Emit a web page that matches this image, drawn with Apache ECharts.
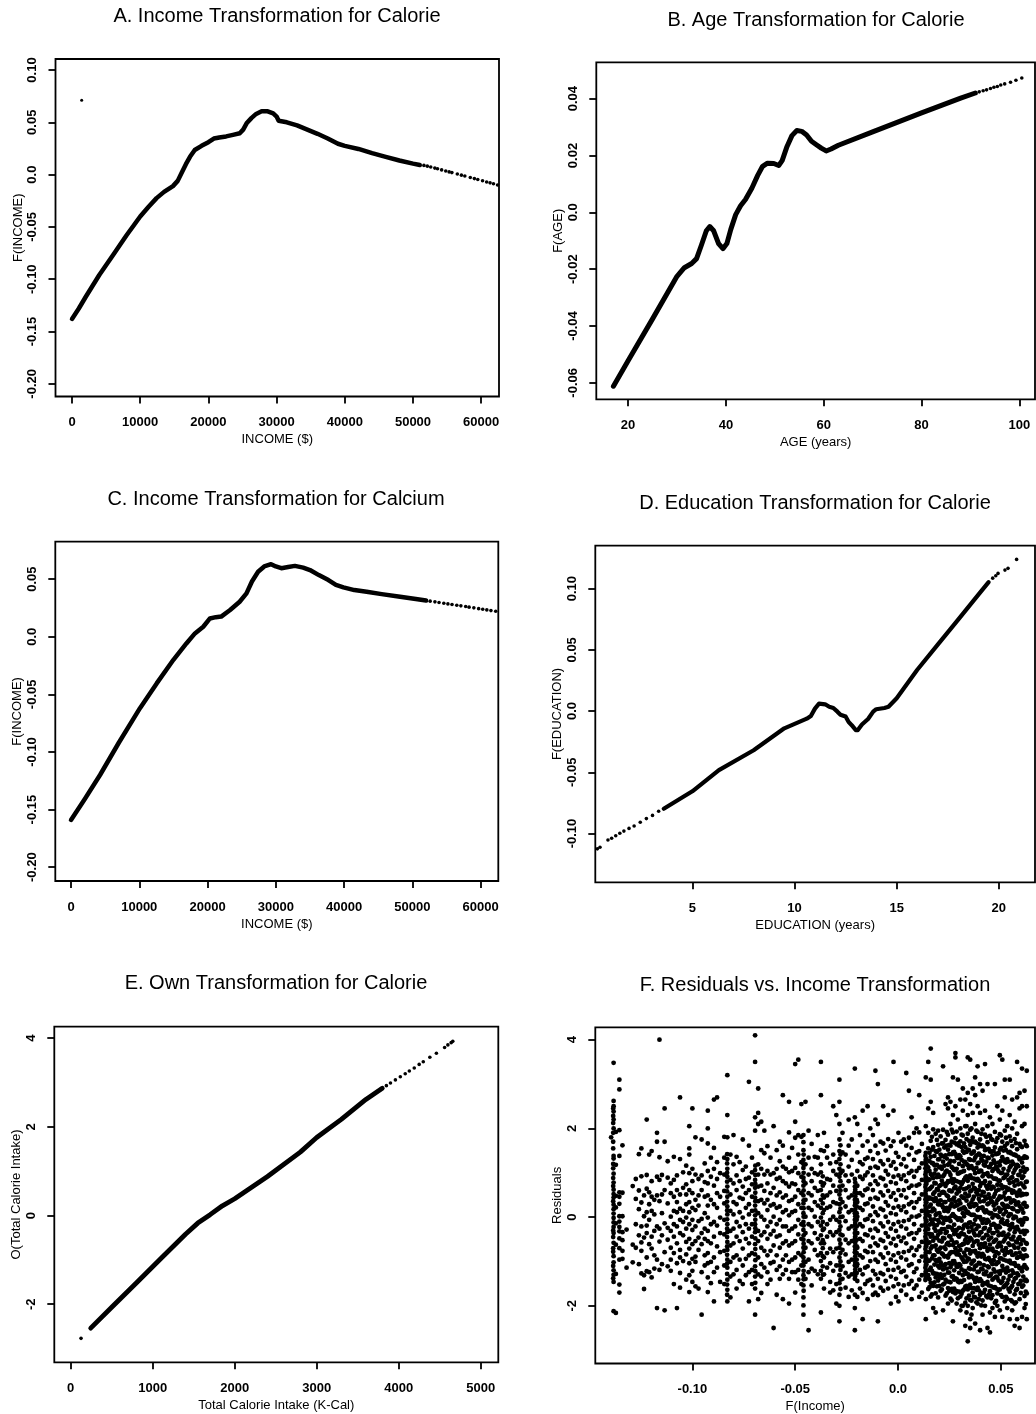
<!DOCTYPE html>
<html><head><meta charset="utf-8">
<script src="https://cdn.jsdelivr.net/npm/echarts@6/dist/echarts.min.js"></script>
<style>html,body{margin:0;padding:0;background:#fff}#c{width:1036px;height:1414px}</style>
</head><body><div id="c"></div>
<script>
// ---------- Panel A: Income transformation for Calorie ----------
const aCurve = [[0,-0.138],[1000,-0.128],[2000,-0.117],[4000,-0.096],[6000,-0.077],[8000,-0.058],[10000,-0.040],[11200,-0.031],[12400,-0.0225],[13500,-0.0165],[14800,-0.011],[15500,-0.006],[16100,0.002],[16700,0.010],[17300,0.017],[18000,0.0235],[19000,0.0275],[20000,0.031],[20800,0.0345],[21600,0.0355],[22600,0.0365],[23600,0.038],[24600,0.0395],[25100,0.043],[25600,0.049],[26300,0.054],[27000,0.058],[27800,0.0605],[28700,0.0605],[29500,0.0585],[30000,0.0555],[30300,0.0515],[31500,0.0500],[33000,0.0470],[34500,0.0430],[36000,0.0390],[37500,0.0345],[39000,0.0295],[40000,0.0275],[42000,0.0245],[44000,0.0205],[46000,0.0170],[48000,0.0135],[50000,0.0105],[51000,0.0092]];
const aTail = [[51600,0.0088],[52100,0.0081],[52600,0.0073],[53200,0.0062],[53600,0.0056],[54200,0.0045],[54800,0.0034],[55300,0.0026],[55700,0.0019],[56500,0.0006],[57100,-0.0005],[57600,-0.0014],[58400,-0.0028],[59000,-0.0038],[59500,-0.0047],[60200,-0.0059],[60800,-0.0070],[61300,-0.0079],[61800,-0.0088],[62400,-0.0099]];
const aStray = [[1420,0.071]];
const aXTicks = [0,10000,20000,30000,40000,50000,60000];
const aYTicks = [-0.20,-0.15,-0.10,-0.05,0,0.05,0.10];
const aYLabels = ['-0.20','-0.15','-0.10','-0.05','0.0','0.05','0.10'];

// ---------- Panel B: Age transformation for Calorie ----------
const bCurve = [[17,-0.0612],[20,-0.0522],[25,-0.0375],[30,-0.0225],[31.5,-0.0195],[33,-0.0180],[34,-0.0163],[35,-0.0115],[36,-0.0065],[36.7,-0.0050],[37.5,-0.0065],[38.5,-0.0110],[39.4,-0.0128],[40.2,-0.0110],[41,-0.0060],[42,-0.0008],[43,0.0023],[44,0.0045],[45.3,0.0085],[46.5,0.0130],[47.5,0.0162],[48.5,0.0173],[49.8,0.0172],[50.8,0.0165],[51.5,0.0182],[52.5,0.0232],[53.5,0.0270],[54.5,0.0288],[55.5,0.0285],[56.5,0.0272],[57.5,0.0250],[58.5,0.0238],[59.5,0.0226],[60.5,0.0216],[61.5,0.0223],[63,0.0236],[70,0.0283],[80,0.0350],[88,0.0402],[91,0.0420]];
const bTail = [[91.8,0.0424],[92.6,0.0428],[93.3,0.0431],[94.1,0.0436],[94.8,0.0440],[95.5,0.0443],[96.2,0.0448],[97.0,0.0452],[98.2,0.0458],[99.3,0.0465],[100.5,0.0473]];
const bXTicks = [20,40,60,80,100];
const bYTicks = [-0.06,-0.04,-0.02,0,0.02,0.04];
const bYLabels = ['-0.06','-0.04','-0.02','0.0','0.02','0.04'];

// ---------- Panel C: Income transformation for Calcium ----------
const cCurve = [[0,-0.159],[2000,-0.141],[4250,-0.120],[7000,-0.092],[10100,-0.062],[12550,-0.0405],[15000,-0.0200],[16900,-0.0058],[18150,0.0029],[19370,0.0087],[20350,0.0159],[21200,0.0170],[22000,0.0175],[23300,0.0232],[24700,0.0304],[25700,0.0376],[26500,0.0480],[27400,0.0564],[28300,0.0610],[29300,0.0630],[30000,0.0610],[30800,0.0595],[31800,0.0605],[32800,0.0615],[34000,0.0600],[35000,0.0579],[36300,0.0535],[37700,0.0492],[38800,0.0450],[39900,0.0429],[41500,0.0405],[43300,0.0391],[45500,0.0370],[48200,0.0347],[50500,0.0328],[52000,0.0314]];
const cTail = [[52600,0.0309],[53300,0.0303],[53900,0.0297],[54600,0.0291],[55200,0.0285],[55800,0.0280],[56500,0.0273],[57100,0.0268],[57800,0.0262],[58300,0.0257],[59000,0.0251],[59700,0.0244],[60300,0.0239],[60900,0.0233],[61500,0.0227],[62200,0.0221]];
const cXTicks = [0,10000,20000,30000,40000,50000,60000];
const cYTicks = [-0.20,-0.15,-0.10,-0.05,0,0.05];
const cYLabels = ['-0.20','-0.15','-0.10','-0.05','0.0','0.05'];

// ---------- Panel D: Education transformation for Calorie ----------
const dCurve = [[3.6,-0.0797],[5,-0.0655],[6.3,-0.0482],[8,-0.0320],[9.5,-0.0141],[10.6,-0.0062],[10.8,-0.0040],[11.0,0.0020],[11.2,0.0060],[11.5,0.0055],[11.7,0.0035],[11.9,0.0025],[12.1,-0.0005],[12.25,-0.0030],[12.5,-0.0045],[12.65,-0.0090],[12.8,-0.0115],[13.0,-0.0155],[13.1,-0.0155],[13.3,-0.0110],[13.6,-0.0065],[13.85,-0.0005],[14.0,0.0015],[14.4,0.0025],[14.6,0.0035],[15,0.0105],[16,0.0335],[17,0.0540],[18,0.0745],[19,0.0950],[19.5,0.1052]];
const dHead = [[0.35,-0.1125],[0.48,-0.1112],[0.87,-0.1053],[1.05,-0.1038],[1.25,-0.1018],[1.45,-0.0998],[1.65,-0.0980],[1.9,-0.0958],[2.15,-0.0938],[2.45,-0.0908],[2.75,-0.0878],[3.05,-0.0852],[3.35,-0.0818]];
const dTail = [[19.7,0.1085],[19.85,0.1105],[19.96,0.1124],[20.3,0.1151],[20.45,0.1165],[20.87,0.1238]];
const dXTicks = [5,10,15,20];
const dYTicks = [-0.10,-0.05,0,0.05,0.10];
const dYLabels = ['-0.10','-0.05','0.0','0.05','0.10'];

// ---------- Panel E: Own transformation for Calorie ----------
const eCurve = [[244,-2.54],[500,-2.07],[800,-1.52],[1100,-0.97],[1400,-0.42],[1550,-0.17],[1700,0.02],[1850,0.22],[2000,0.38],[2400,0.88],[2800,1.43],[3000,1.76],[3300,2.17],[3600,2.62],[3800,2.87]];
const eTail = [[126,-2.77],[3850,2.93],[3900,2.99],[3960,3.06],[4020,3.13],[4080,3.20],[4130,3.26],[4190,3.33],[4250,3.41],[4300,3.47],[4380,3.57],[4460,3.66],[4560,3.79],[4600,3.85],[4640,3.90],[4660,3.93]];
const eXTicks = [0,1000,2000,3000,4000,5000];
const eYTicks = [-2,0,2,4];
const eYLabels = ['-2','0','2','4'];

// ---------- Panel F: Residuals vs income transformation (stripes of points) ----------
const fStripeX = [-0.1395,-0.1383,-0.1372,-0.1355,-0.1340,-0.1320,
-0.1290,-0.1275,-0.1260,-0.1248,-0.1235,-0.1222,-0.1210,-0.1198,-0.1185,-0.1172,-0.1160,-0.1148,-0.1135,-0.1120,
-0.1105,-0.1090,-0.1075,-0.1060,-0.1045,-0.1030,-0.1015,-0.1000,-0.0985,-0.0970,-0.0955,-0.0940,-0.0925,-0.0910,-0.0895,-0.0880,-0.0865,
-0.0845,-0.0830,-0.0815,-0.0800,-0.0785,-0.0770,-0.0755,-0.0740,-0.0725,-0.0710,-0.0695,-0.0680,-0.0665,-0.0650,-0.0635,-0.0620,-0.0605,-0.0590,-0.0575,-0.0560,-0.0545,-0.0530,-0.0515,
-0.0500,-0.0485,-0.0470,-0.0460,-0.0450,-0.0435,-0.0420,-0.0405,-0.0390,-0.0375,-0.0360,-0.0345,-0.0330,-0.0315,-0.0300,-0.0285,-0.0270,-0.0255,-0.0240,-0.0225,
-0.0210,-0.0198,-0.0185,-0.0172,-0.0160,-0.0148,-0.0135,-0.0122,-0.0110,-0.0098,-0.0085,-0.0072,-0.0060,-0.0048,-0.0035,-0.0022,-0.0010,0.0002,0.0015,0.0028,0.0040,0.0053,0.0066,0.0078,0.0090,0.0103,0.0116,
0.0135,0.0147,0.0159,0.0171,0.0183,0.0195,0.0207,0.0219,0.0231,0.0243,0.0255,0.0267,0.0279,0.0291,0.0303,0.0315,0.0327,0.0339,0.0351,0.0363,0.0375,0.0387,0.0399,0.0411,0.0423,0.0435,0.0447,0.0459,0.0471,0.0483,0.0495,0.0507,0.0519,0.0531,0.0543,0.0555,0.0567,0.0579,0.0591,0.0603,0.0615,0.0626];
const fStripeY = [
[1.8],
[3.48,2.62,2.5,2.38,2.2,2.0,1.38,1.32,0.98,0.78,0.62,0.52,0.44,0.28,0.18,0.08,-0.02,-0.12,-0.22,-0.36,-0.58,-0.88,-1.02,-1.2,-1.3,-1.46,-2.12],
[1.92,1.18,0.48,0.22,-0.14,-0.62,-1.28,-2.16],
[3.1,2.88,1.96,1.38,0.56,0.46,0.3,0.02,-0.1,-0.22,-0.32,-0.48,-0.7,-0.96,-1.52,-1.7],
[1.62,0.55,0.02,-0.34,-0.52,-0.76,-0.94],
[-0.28,-1.14],
[0.7,-0.62,-1.02],
[0.86,0.41,-0.16,-0.69],
[1.42,0.6,0.18,-0.41,-1.06],
[1.55,0.92,0.33,-0.21,-0.57,-0.76,-1.27],
[0.49,0.02,-0.46,-1.31,-1.62],
[2.2,0.95,0.64,0.11,-0.19,-0.36,-0.91,-1.22],
[1.41,0.56,0.29,-0.06,-0.61,-1.24],
[1.49,0.81,0.46,0.14,-0.44,-0.71,-1.36],
[0.39,0.06,-0.31,-0.86,-1.16],
[1.9,1.7,0.91,0.49,-0.21,-0.96,-2.05],
[4.0,1.35,0.84,0.36,-0.26,-0.55,-1.19],
[0.95,0.51,0.09,-0.41,-1.06],
[2.45,1.7,0.61,-0.14,-0.79,-2.1],
[1.26,0.89,0.31,-0.24,-0.51,-1.11],
[0.76,0.54,0.01,-0.31,-0.69,-0.96,-1.21],
[1.36,0.84,0.46,0.14,-0.16,-0.44,-0.81,-1.51],
[0.94,0.61,0.34,0.11,-0.21,-0.59,-1.04,-2.05],
[2.7,1.31,0.51,0.19,-0.06,-0.36,-0.74,-0.91,-1.26,-1.59],
[1.01,0.66,0.14,-0.11,-0.41,-0.99],
[1.16,0.74,0.51,0.29,-0.01,-0.26,-0.56,-0.84,-1.41],
[2.05,1.55,1.41,0.99,0.61,0.34,0.11,-0.16,-0.49,-0.71,-1.04,-1.31,-1.69],
[2.45,1.09,0.81,0.54,0.21,-0.06,-0.29,-0.61,-0.94,-1.21,-1.46],
[1.8,0.96,0.39,0.16,-0.21,-0.54,-0.89,-1.01,-1.56],
[0.86,0.49,0.26,-0.09,-0.46,-0.74,-1.61],
[1.75,0.94,0.61,-0.04,-0.36,-0.61,-1.24,-2.2],
[1.21,0.79,0.46,0.09,-0.26,-0.49,-0.86,-1.09],
[2.4,2.0,1.66,1.04,0.76,0.49,0.26,-0.01,-0.31,-0.54,-0.81,-1.04,-1.36,-1.69],
[1.34,0.91,0.39,-0.16,-0.59,-1.01,-1.49],
[2.65,1.56,1.09,0.71,0.29,-0.11,-0.44,-0.91,-1.24,-1.9],
[2.7,1.24,0.86,0.54,0.21,-0.19,-0.66,-1.14],
[0.99,0.46,-0.01,-0.36,-0.79,-1.46],
[1.81,1.34,0.96,0.59,0.31,-0.06,-0.39,-0.76,-1.09,-1.51],
[3.2,2.3,1.8,1.31,1.09,0.91,0.69,0.46,0.24,0.06,-0.16,-0.34,-0.56,-0.74,-0.96,-1.14,-1.41,-1.64,-1.9],
[1.41,0.84,0.51,0.14,-0.31,-0.64,-1.01,-1.34,-1.81],
[1.85,1.19,0.76,0.34,0.06,-0.26,-0.59,-0.91,-1.29],
[1.36,0.94,0.61,0.29,-0.11,-0.44,-0.86,-1.19,-1.61],
[1.24,0.81,0.44,0.11,-0.21,-0.54,-0.96,-1.44],
[1.75,1.06,0.69,0.41,-0.01,-0.34,-0.71,-1.09,-1.51],
[1.14,0.86,0.54,0.21,-0.16,-0.49,-0.94,-1.31],
[3.05,1.61,0.89,0.61,0.29,0.06,-0.26,-0.59,-0.86,-1.24,-1.9],
[1.34,1.01,0.74,0.46,0.14,-0.16,-0.44,-0.81,-1.19,-1.51],
[4.1,3.5,2.25,1.95,1.06,0.84,0.66,0.44,0.26,0.04,-0.16,-0.34,-0.61,-0.84,-1.11,-1.34,-1.61,-2.2],
[2.9,2.35,2.1,1.19,0.96,0.69,0.36,0.09,-0.31,-0.54,-0.91,-1.29,-1.85],
[2.15,1.51,1.09,0.71,0.39,0.01,-0.41,-0.69,-1.06,-1.34,-1.71],
[1.95,1.44,0.96,0.59,0.31,-0.06,-0.34,-0.76,-1.14],
[1.6,1.04,0.76,0.39,0.16,-0.21,-0.49,-0.86,-1.24,-1.51],
[1.34,0.96,0.54,0.26,-0.11,-0.39,-0.76,-1.04,-1.41],
[2.05,0.99,0.66,0.29,0.01,-0.31,-0.64,-1.01,-2.5],
[1.51,1.09,0.86,0.49,0.21,-0.16,-0.44,-0.86,-1.19,-1.75],
[1.7,1.26,0.89,0.56,0.24,-0.06,-0.41,-0.69,-1.11,-1.39],
[2.75,1.61,1.14,0.81,0.44,0.11,-0.21,-0.59,-0.96,-1.29,-1.85],
[1.09,0.76,0.49,0.16,-0.21,-0.54,-0.86,-1.19],
[2.6,1.91,1.34,1.01,0.69,0.36,0.04,-0.31,-0.64,-1.01,-1.39,-1.95],
[1.56,1.04,0.76,0.39,0.11,-0.26,-0.59,-0.96,-1.24],
[3.45,2.15,1.79,1.11,0.74,0.46,0.14,-0.21,-0.54,-0.91,-1.24,-1.7],
[3.55,1.85,1.41,0.99,0.61,0.29,-0.06,-0.39,-0.81,-1.19,-1.41],
[2.55,1.81,1.24,0.91,0.54,0.21,-0.16,-0.49,-0.86,-1.09,-1.51],
[1.85,1.69,1.51,1.29,1.11,0.89,0.71,0.49,0.31,0.09,-0.11,-0.29,-0.51,-0.69,-0.91,-1.09,-1.31,-1.54,-1.81,-1.99,-2.2],
[2.6,1.19,0.76,0.39,0.01,-0.36,-0.69,-1.01,-1.39],
[1.95,1.34,0.96,0.54,0.21,-0.16,-0.54,-0.96,-1.24,-2.55],
[1.65,1.09,0.81,0.49,0.16,-0.21,-0.59,-1.16,-1.54],
[1.36,0.99,0.66,0.34,0.01,-0.36,-0.74,-1.21],
[1.85,1.34,0.96,0.59,0.26,-0.11,-0.49,-0.86,-1.29],
[3.5,2.75,1.51,1.19,1.01,0.79,0.61,0.39,0.21,-0.01,-0.19,-0.41,-0.59,-0.81,-0.99,-1.21,-1.39,-2.15],
[1.9,1.49,0.76,0.44,0.16,-0.26,-0.59,-0.91,-1.29,-1.61],
[1.6,1.34,0.86,0.49,0.21,-0.16,-0.44,-0.81,-1.14],
[1.21,0.84,0.56,0.24,-0.06,-0.34,-0.71,-1.04,-1.46,-1.7],
[2.5,1.41,1.04,0.71,0.34,0.01,-0.41,-0.79,-1.21,-1.65],
[2.3,1.24,0.96,0.59,0.31,-0.06,-0.34,-0.71,-1.09,-1.51,-1.95],
[3.1,2.6,2.1,1.75,1.49,1.31,1.09,0.91,0.69,0.51,0.29,0.11,-0.11,-0.29,-0.51,-0.69,-0.91,-1.09,-1.31,-1.49,-1.75,-2.0,-2.35],
[1.9,1.46,1.04,0.71,0.34,0.01,-0.41,-0.74,-1.11,-1.39],
[1.41,0.94,0.61,0.24,-0.09,-0.51,-0.84,-1.26,-1.59],
[2.2,1.61,1.14,0.81,0.44,0.11,-0.26,-0.59,-1.01,-1.34,-1.8],
[1.75,1.29,0.96,0.49,0.16,-0.21,-0.54,-0.96,-1.29,-1.65],
[3.35,2.25,0.86,0.69,0.56,0.39,0.26,0.09,-0.06,-0.19,-0.36,-0.49,-0.66,-0.79,-0.96,-1.09,-1.26,-1.39,-1.75,-2.05,-2.55],
[2.1,1.46,1.04,0.71,0.34,0.01,-0.36,-0.69,-1.06,-1.44,-1.8],
[1.85,1.24,0.91,0.54,0.21,-0.16,-0.49,-0.86,-1.19,-1.61],
[2.4,1.61,1.19,0.86,0.49,0.16,-0.21,-0.54,-0.91,-1.29,-1.71,-2.3],
[1.31,0.94,0.61,0.29,-0.06,-0.39,-0.76,-1.14,-1.51],
[2.5,1.71,1.34,1.01,0.64,0.31,-0.04,-0.41,-0.79,-1.11,-1.44,-1.85],
[2.0,1.49,1.11,0.74,0.41,0.04,-0.29,-0.66,-0.99,-1.41],
[1.85,1.31,0.94,0.61,0.24,-0.09,-0.46,-0.79,-1.21,-1.54,-1.75],
[3.3,2.2,1.61,1.14,0.81,0.44,0.11,-0.26,-0.59,-0.96,-1.29,-1.7],
[3.0,2.1,1.44,1.11,0.74,0.41,0.04,-0.31,-0.64,-1.01,-1.39,-1.76,-2.35],
[1.7,1.26,0.89,0.56,0.19,-0.14,-0.51,-0.84,-1.26,-1.59],
[2.5,1.66,1.19,0.86,0.49,0.16,-0.21,-0.54,-0.91,-1.29,-1.66],
[1.5,1.04,0.71,0.34,0.01,-0.36,-0.69,-1.06,-1.44],
[2.3,1.76,1.29,0.96,0.59,0.26,-0.11,-0.44,-0.81,-1.19,-1.61],
[1.6,1.16,0.79,0.46,0.09,-0.26,-0.59,-0.96,-1.34,-1.95],
[3.5,2.4,1.71,1.24,0.91,0.54,0.21,-0.16,-0.49,-0.86,-1.19,-1.56],
[1.45,1.09,0.76,0.39,0.06,-0.31,-0.64,-1.01,-1.39,-1.8],
[1.9,1.36,0.94,0.61,0.24,-0.11,-0.44,-0.81,-1.14,-1.51,-1.9],
[1.7,1.19,0.86,0.49,0.16,-0.21,-0.54,-0.91,-1.24,-1.66],
[1.75,1.31,0.94,0.61,0.24,-0.09,-0.46,-0.79,-1.21,-1.54],
[3.25,1.61,1.14,0.81,0.44,0.11,-0.26,-0.59,-0.96,-1.34,-1.75],
[2.85,1.79,1.41,0.99,0.66,0.29,-0.06,-0.39,-0.76,-1.09,-1.51],
[2.25,1.56,1.04,0.71,0.34,0.01,-0.36,-0.69,-1.06,-1.44,-1.85],
[1.9,1.29,0.91,0.54,0.21,-0.16,-0.49,-0.86,-1.24,-1.61],
[2.0,1.46,1.04,0.71,0.34,0.01,-0.36,-0.74,-1.16,-1.54],
[2.75,1.91,1.49,1.11,0.74,0.41,0.04,-0.29,-0.66,-0.99,-1.41,-1.8],
[1.65,1.21,0.84,0.51,0.14,-0.19,-0.56,-0.89,-1.31,-1.7],
[3.15,2.05,1.45,1.3,1.18,1.02,0.9,0.74,0.6,0.47,0.33,0.2,0.06,-0.08,-0.22,-0.37,-0.5,-0.66,-0.8,-0.94,-1.08,-1.22,-1.37,-1.85,-2.3],
[3.5,2.45,1.9,1.55,1.12,0.83,0.41,0.12,-0.27,-0.58,-0.99,-1.31,-1.62],
[3.8,3.1,2.6,1.72,1.36,0.97,0.66,0.28,-0.05,-0.44,-0.71,-1.14,-1.48,-1.79],
[2.35,1.98,1.58,1.21,0.88,0.52,0.19,-0.16,-0.53,-0.86,-1.27,-1.55,-2.05],
[1.88,1.49,1.07,0.76,0.43,0.05,-0.31,-0.64,-0.97,-1.36,-1.72,-2.15],
[1.95,1.63,1.3,0.96,0.61,0.29,-0.07,-0.4,-0.78,-1.1,-1.43,-1.81],
[1.82,1.41,1.14,0.72,0.38,0.01,-0.35,-0.69,-1.02,-1.29,-1.66],
[3.4,1.97,1.67,1.25,0.92,0.57,0.22,-0.14,-0.47,-0.84,-1.18,-1.52,-2.1],
[2.55,1.74,1.39,1.02,0.7,0.34,-0.02,-0.36,-0.72,-1.06,-1.41,-1.77],
[2.7,2.45,1.86,1.52,1.18,0.81,0.47,0.13,-0.22,-0.58,-0.91,-1.25,-1.6,-1.95],
[2.6,2.1,1.61,1.27,0.95,0.59,0.25,-0.09,-0.44,-0.8,-1.13,-1.47,-1.84],
[3.15,2.3,1.91,1.46,1.1,0.77,0.4,0.07,-0.29,-0.63,-0.99,-1.33,-1.69,-2.35],
[3.7,3.6,2.5,1.78,1.42,1.06,0.69,0.35,0.0,-0.35,-0.7,-1.05,-1.38,-1.72],
[3.1,2.2,1.66,1.33,0.98,0.62,0.28,-0.06,-0.41,-0.77,-1.12,-1.45,-1.83],
[2.65,2.0,1.71,1.37,1.01,0.66,0.31,-0.04,-0.39,-0.74,-1.09,-1.44,-1.79,-2.1],
[2.9,2.4,1.84,1.49,1.15,0.79,0.44,0.09,-0.26,-0.61,-0.96,-1.31,-1.66,-2.0],
[2.65,2.05,1.58,1.24,0.89,0.53,0.18,-0.17,-0.52,-0.87,-1.22,-1.57,-1.93,-2.45],
[3.6,2.8,2.3,1.88,1.52,1.17,0.82,0.47,0.12,-0.23,-0.58,-0.93,-1.28,-1.63,-2.0,-2.8],
[3.55,2.55,1.97,1.63,1.29,0.94,0.58,0.23,-0.12,-0.47,-0.82,-1.17,-1.52,-1.87,-2.3,-2.5],
[2.9,2.35,1.79,1.45,1.1,0.75,0.4,0.05,-0.3,-0.65,-1.0,-1.35,-1.7,-2.05],
[3.15,2.75,2.1,1.7,1.34,0.99,0.64,0.29,-0.06,-0.41,-0.76,-1.11,-1.46,-1.81,-2.4],
[3.4,2.5,1.92,1.57,1.21,0.86,0.51,0.16,-0.19,-0.54,-0.89,-1.24,-1.59,-1.95],
[3.0,2.35,1.75,1.4,1.05,0.7,0.35,0.0,-0.35,-0.7,-1.05,-1.4,-1.75,-2.55],
[2.85,1.98,1.62,1.27,0.92,0.57,0.22,-0.13,-0.48,-0.83,-1.18,-1.53,-1.88,-2.2],
[3.45,2.4,1.86,1.51,1.16,0.81,0.46,0.11,-0.24,-0.59,-0.94,-1.29,-1.64,-2.0],
[3.0,2.05,1.69,1.34,0.99,0.64,0.29,-0.06,-0.41,-0.76,-1.11,-1.46,-1.81,-2.5],
[2.25,1.83,1.48,1.13,0.78,0.43,0.08,-0.27,-0.62,-0.97,-1.32,-1.67,-2.15,-2.6],
[2.1,1.74,1.39,1.04,0.69,0.34,-0.01,-0.36,-0.71,-1.06,-1.41,-1.76,-2.05],
[3.0,1.92,1.57,1.22,0.87,0.52,0.17,-0.18,-0.53,-0.88,-1.23,-1.58,-1.93,-2.25],
[2.5,1.78,1.43,1.08,0.73,0.38,0.03,-0.32,-0.67,-1.02,-1.37,-1.72,-2.0],
[3.65,2.2,1.87,1.52,1.17,0.82,0.47,0.12,-0.23,-0.58,-0.93,-1.28,-1.63,-2.1],
[3.55,2.4,1.7,1.35,1.0,0.65,0.3,-0.05,-0.4,-0.75,-1.1,-1.45,-1.8,-2.25],
[3.1,2.7,1.95,1.6,1.25,0.9,0.55,0.2,-0.15,-0.5,-0.85,-1.2,-1.55,-1.9],
[2.05,1.66,1.31,0.96,0.61,0.26,-0.09,-0.44,-0.79,-1.14,-1.49,-1.84,-2.05],
[3.1,2.3,1.82,1.47,1.12,0.77,0.42,0.07,-0.28,-0.63,-0.98,-1.33,-1.68,-2.3],
[2.65,2.0,1.6,1.25,0.9,0.55,0.2,-0.15,-0.5,-0.85,-1.2,-1.55,-1.9,-2.1],
[2.15,1.76,1.41,1.06,0.71,0.36,0.01,-0.34,-0.69,-1.04,-1.39,-1.74,-1.95,-2.45],
[3.5,2.7,1.88,1.53,1.18,0.83,0.48,0.13,-0.22,-0.57,-0.92,-1.27,-1.62,-2.3],
[2.8,2.45,1.65,1.3,0.95,0.6,0.25,-0.1,-0.45,-0.8,-1.15,-1.5,-1.85,-2.5],
[3.35,2.5,2.05,1.58,1.23,0.88,0.53,0.18,-0.17,-0.52,-0.87,-1.22,-1.57,-2.25],
[2.85,2.1,1.72,1.37,1.02,0.67,0.32,-0.03,-0.38,-0.73,-1.08,-1.43,-1.78,-2.05],
[3.3,2.5,1.6,1.34,1.08,0.8,0.52,0.24,-0.04,-0.32,-0.6,-0.88,-1.16,-1.44,-1.72,-2.3]
];
// strongly populated income groups (solid vertical streaks)
const fLineX = [-0.1385,-0.0831,-0.0694,-0.0459,-0.0366,-0.0280,-0.0208,-0.0201,0.0133,0.0138];
const fLineY = [
[2.45,2.28,2.12,1.9,1.7,1.55,1.2,1.1,0.88,0.7,0.36,-0.3,-0.45,-0.7,-0.78,-1.1,-1.38],
[1.42,1.21,1.0,0.8,0.58,0.35,0.15,-0.05,-0.26,-0.45,-0.66,-0.85,-1.05,-1.28,-1.52,-1.75],
[1.16,0.95,0.75,0.55,0.36,0.15,-0.06,-0.25,-0.48,-0.72,-0.97,-1.22,-1.48],
[1.41,1.19,1.0,0.81,0.6,0.38,0.2,0.01,-0.19,-0.41,-0.6,-0.79,-1.0,-1.21,-1.4,-1.66],
[0.92,0.71,0.49,0.31,0.09,-0.11,-0.29,-0.52,-0.7,-0.88,-1.11,-1.3],
[1.62,1.41,1.19,0.99,0.81,0.6,0.41,0.19,0.0,-0.21,-0.39,-0.6,-0.81,-1.0,-1.19,-1.41,-1.62],
[0.78,0.62,0.47,0.32,0.17,0.02,-0.13,-0.28,-0.43,-0.58,-0.73,-0.88,-1.03,-1.18,-1.33],
[0.7,0.54,0.39,0.24,0.09,-0.06,-0.21,-0.36,-0.51,-0.66,-0.81,-0.96,-1.11,-1.26],
[1.38,1.24,1.1,0.96,0.82,0.68,0.54,0.4,0.26,0.12,-0.02,-0.16,-0.3,-0.44,-0.58,-0.72,-0.86,-1.0,-1.14,-1.28,-1.42],
[1.31,1.17,1.03,0.89,0.75,0.61,0.47,0.33,0.19,0.05,-0.09,-0.23,-0.37,-0.51,-0.65,-0.79,-0.93,-1.07,-1.21,-1.35]
];
// extra points in the crowded high-income band
const fDenseX = [0.0165,0.0189,0.0213,0.0237,0.0261,0.0285,0.0309,0.0333,0.0357,0.0381,0.0405,0.0429,0.0453,0.0477,0.0501,0.0525,0.0549,0.0573,0.0597,0.0621];
const fDenseY = [
[1.81,1.52,1.22,0.94,0.69,0.41,0.13,-0.12,-0.39,-0.66,-0.93,-1.21,-1.5,-1.74],
[1.74,1.47,1.18,0.9,0.63,0.37,0.08,-0.18,-0.47,-0.74,-1.0,-1.28,-1.56],
[1.66,1.38,1.09,0.82,0.55,0.27,-0.01,-0.27,-0.55,-0.82,-1.09,-1.37,-1.63],
[1.92,1.61,1.32,1.05,0.76,0.49,0.21,-0.06,-0.33,-0.61,-0.88,-1.16,-1.45,-1.72],
[1.97,1.7,1.42,1.13,0.86,0.58,0.31,0.03,-0.24,-0.52,-0.79,-1.07,-1.34,-1.62,-1.88],
[1.93,1.64,1.36,1.09,0.81,0.53,0.26,-0.02,-0.29,-0.57,-0.84,-1.12,-1.39,-1.67,-1.95],
[1.86,1.58,1.29,1.02,0.74,0.47,0.19,-0.08,-0.36,-0.63,-0.91,-1.18,-1.46,-1.73,-2.0],
[2.05,1.76,1.47,1.2,0.92,0.65,0.37,0.1,-0.18,-0.45,-0.73,-1.0,-1.28,-1.55,-1.83,-2.15],
[2.0,1.71,1.43,1.15,0.88,0.6,0.33,0.05,-0.22,-0.5,-0.77,-1.05,-1.32,-1.6,-1.88,-2.2],
[1.95,1.67,1.39,1.11,0.83,0.56,0.28,0.01,-0.27,-0.54,-0.82,-1.09,-1.37,-1.64,-1.92],
[1.88,1.6,1.31,1.04,0.76,0.49,0.21,-0.06,-0.34,-0.61,-0.89,-1.16,-1.44,-1.71,-1.99],
[1.81,1.53,1.25,0.97,0.7,0.42,0.15,-0.13,-0.4,-0.68,-0.95,-1.23,-1.5,-1.78],
[1.76,1.48,1.2,0.92,0.64,0.37,0.09,-0.18,-0.46,-0.73,-1.01,-1.28,-1.56,-1.83],
[1.7,1.42,1.14,0.86,0.59,0.31,0.04,-0.24,-0.51,-0.79,-1.06,-1.34,-1.61,-1.89],
[1.84,1.56,1.27,0.99,0.72,0.44,0.17,-0.11,-0.38,-0.66,-0.93,-1.21,-1.48,-1.76],
[1.79,1.51,1.23,0.95,0.67,0.4,0.12,-0.15,-0.43,-0.7,-0.98,-1.25,-1.53,-1.8],
[1.72,1.44,1.16,0.88,0.61,0.33,0.06,-0.22,-0.49,-0.77,-1.04,-1.32,-1.59,-1.87],
[1.67,1.39,1.11,0.83,0.55,0.28,0.0,-0.27,-0.55,-0.82,-1.1,-1.37,-1.65,-1.92],
[1.6,1.32,1.04,0.76,0.49,0.21,-0.06,-0.34,-0.61,-0.89,-1.16,-1.44,-1.71],
[1.63,1.35,1.07,0.79,0.52,0.24,-0.03,-0.31,-0.58,-0.86,-1.13,-1.41,-1.68,-1.96]
];
const fDense2X = [0.0153,0.0177,0.0201,0.0225,0.0249,0.0273,0.0297,0.0321,0.0345,0.0369,0.0393,0.0417,0.0441,0.0465,0.0489,0.0513,0.0537,0.0561,0.0585,0.0609];
const fDense2Y = [
[1.45,1.26,1.04,0.85,0.63,0.44,0.24,0.03,-0.17,-0.38,-0.57,-0.79,-0.98,-1.19,-1.4,-1.58],
[1.38,1.17,0.98,0.77,0.56,0.36,0.16,-0.05,-0.25,-0.46,-0.66,-0.86,-1.07,-1.27,-1.47],
[1.52,1.31,1.12,0.91,0.7,0.5,0.29,0.09,-0.12,-0.32,-0.53,-0.73,-0.94,-1.14,-1.35,-1.55],
[1.57,1.36,1.16,0.96,0.75,0.55,0.34,0.14,-0.07,-0.27,-0.48,-0.68,-0.89,-1.09,-1.3,-1.5],
[1.63,1.42,1.21,1.01,0.8,0.6,0.39,0.19,-0.02,-0.22,-0.43,-0.63,-0.84,-1.04,-1.25,-1.46,-1.66],
[1.68,1.47,1.26,1.06,0.85,0.65,0.44,0.24,0.03,-0.17,-0.38,-0.58,-0.79,-0.99,-1.2,-1.41,-1.61],
[1.61,1.4,1.2,0.99,0.79,0.58,0.38,0.17,-0.03,-0.24,-0.44,-0.65,-0.85,-1.06,-1.26,-1.47,-1.68],
[1.66,1.45,1.25,1.04,0.84,0.63,0.43,0.22,0.02,-0.19,-0.39,-0.6,-0.8,-1.01,-1.21,-1.42,-1.63],
[1.72,1.51,1.31,1.1,0.9,0.69,0.49,0.28,0.08,-0.13,-0.33,-0.54,-0.74,-0.95,-1.15,-1.36,-1.57,-1.77],
[1.69,1.48,1.28,1.07,0.87,0.66,0.46,0.25,0.05,-0.16,-0.36,-0.57,-0.77,-0.98,-1.18,-1.39,-1.6,-1.8],
[1.64,1.43,1.23,1.02,0.82,0.61,0.41,0.2,0.0,-0.21,-0.41,-0.62,-0.82,-1.03,-1.23,-1.44,-1.65,-1.85],
[1.59,1.38,1.18,0.97,0.77,0.56,0.36,0.15,-0.05,-0.26,-0.46,-0.67,-0.87,-1.08,-1.28,-1.49,-1.7],
[1.54,1.33,1.13,0.92,0.72,0.51,0.31,0.1,-0.1,-0.31,-0.51,-0.72,-0.92,-1.13,-1.33,-1.54,-1.75],
[1.49,1.28,1.08,0.87,0.67,0.46,0.26,0.05,-0.15,-0.36,-0.56,-0.77,-0.97,-1.18,-1.38,-1.59],
[1.44,1.23,1.03,0.82,0.62,0.41,0.21,0.0,-0.2,-0.41,-0.61,-0.82,-1.02,-1.23,-1.43,-1.64],
[1.5,1.29,1.09,0.88,0.68,0.47,0.27,0.06,-0.14,-0.35,-0.55,-0.76,-0.96,-1.17,-1.37,-1.58],
[1.46,1.25,1.05,0.84,0.64,0.43,0.23,0.02,-0.18,-0.39,-0.59,-0.8,-1.0,-1.21,-1.41,-1.62],
[1.41,1.2,1.0,0.79,0.59,0.38,0.18,-0.03,-0.23,-0.44,-0.64,-0.85,-1.05,-1.26,-1.46],
[1.36,1.15,0.95,0.74,0.54,0.33,0.13,-0.08,-0.28,-0.49,-0.69,-0.9,-1.1,-1.31,-1.51],
[1.33,1.12,0.92,0.71,0.51,0.3,0.1,-0.11,-0.31,-0.52,-0.72,-0.93,-1.13,-1.34,-1.54]
];
const fXTicks = [-0.10,-0.05,0,0.05];
const fXLabels = ['-0.10','-0.05','0.0','0.05'];
const fYTicks = [-2,0,2,4];
const fYLabels = ['-2','0','2','4'];

// ---------- build ----------
const FONT = '"Liberation Sans", Arial, Helvetica, sans-serif';
const fPoints = [];
function addStripes(xs, ys) { xs.forEach((x, i) => (ys[i] || []).forEach(y => fPoints.push([x, y]))); }
addStripes(fStripeX, fStripeY);
addStripes(fLineX, fLineY);
addStripes(fDenseX, fDenseY);
addStripes(fDense2X, fDense2Y);

function lookup(ticks, labels) {
  return v => { for (let i = 0; i < ticks.length; i++) if (Math.abs(ticks[i] - v) < 1e-9) return labels[i]; return ''; };
}
const panels = [
  {title:'A. Income Transformation for Calorie', tx:277, ty:6, box:[55.5,59,443.5,337.5], xr:[-2419,62610], yr:[-0.2121,0.1105], xt:aXTicks, xl:aXTicks.map(String), yt:aYTicks, yl:aYLabels, xn:'INCOME ($)', yn:'F(INCOME)'},
  {title:'B. Age Transformation for Calorie', tx:816, ty:10, box:[596.3,62.3,438.7,337], xr:[13.5,103.2], yr:[-0.0658,0.0528], xt:bXTicks, xl:bXTicks.map(String), yt:bYTicks, yl:bYLabels, xn:'AGE (years)', yn:'F(AGE)'},
  {title:'C. Income Transformation for Calcium', tx:276, ty:489.5, box:[55.3,541.7,443,339.3], xr:[-2299,62580], yr:[-0.212,0.0825], xt:cXTicks, xl:cXTicks.map(String), yt:cYTicks, yl:cYLabels, xn:'INCOME ($)', yn:'F(INCOME)'},
  {title:'D. Education Transformation for Calorie', tx:815, ty:493, box:[595.3,545.7,439.7,336.6], xr:[0.25,21.77], yr:[-0.1398,0.135], xt:dXTicks, xl:dXTicks.map(String), yt:dYTicks, yl:dYLabels, xn:'EDUCATION (years)', yn:'F(EDUCATION)'},
  {title:'E. Own Transformation for Calorie', tx:276, ty:973, box:[54.3,1026.7,444,335.6], xr:[-200,5215], yr:[-3.31,4.26], xt:eXTicks, xl:eXTicks.map(String), yt:eYTicks, yl:eYLabels, xn:'Total Calorie Intake (K-Cal)', yn:'O(Total Calorie Intake)'},
  {title:'F. Residuals vs. Income Transformation', tx:815, ty:975, box:[595.3,1027.3,439.7,337], xr:[-0.1472,0.0666], yr:[-3.30,4.28], xt:fXTicks, xl:fXLabels, yt:fYTicks, yl:fYLabels, xn:'F(Income)', yn:'Residuals'}
];

const option = {animation:false, backgroundColor:'#fff', title:[], grid:[], xAxis:[], yAxis:[], series:[]};
panels.forEach((p, i) => {
  option.title.push({text:p.title, left:p.tx, top:p.ty, textAlign:'center', padding:0,
    textStyle:{fontFamily:FONT, fontSize:20, fontWeight:'normal', color:'#000'}});
  option.grid.push({left:p.box[0], top:p.box[1], width:p.box[2], height:p.box[3], show:true,
    borderColor:'#000', borderWidth:1.8, backgroundColor:'transparent', containLabel:false});
  const tick = {show:true, inside:false, length:7, lineStyle:{color:'#000', width:1.8}};
  option.xAxis.push({gridIndex:i, type:'value', position:'bottom', min:p.xr[0], max:p.xr[1], splitLine:{show:false},
    axisLine:{show:false, onZero:false}, axisTick:Object.assign({customValues:p.xt}, tick),
    axisLabel:{customValues:p.xt, formatter:lookup(p.xt, p.xl), margin:19.5, fontFamily:FONT, fontSize:13, fontWeight:'bold', color:'#000', hideOverlap:false},
    name:p.xn, nameLocation:'middle', nameGap:36.5, nameTextStyle:{fontFamily:FONT, fontSize:13, color:'#000'}});
  option.yAxis.push({gridIndex:i, type:'value', position:'left', min:p.yr[0], max:p.yr[1], splitLine:{show:false},
    axisLine:{show:false, onZero:false}, axisTick:Object.assign({customValues:p.yt}, tick),
    axisLabel:{customValues:p.yt, formatter:lookup(p.yt, p.yl), rotate:90, margin:16.5, fontFamily:FONT, fontSize:13, fontWeight:'bold', color:'#000', hideOverlap:false},
    name:p.yn, nameLocation:'middle', nameGap:31, nameTextStyle:{fontFamily:FONT, fontSize:13, color:'#000'}});
});

function line(idx, data, w) {
  return {type:'line', xAxisIndex:idx, yAxisIndex:idx, data:data, showSymbol:false, smooth:false,
    lineStyle:{color:'#000', width:w, cap:'round', join:'round'}, silent:true};
}
function dots(idx, data, s) {
  return {type:'scatter', xAxisIndex:idx, yAxisIndex:idx, data:data, symbol:'circle', symbolSize:s,
    itemStyle:{color:'#000', opacity:1}, silent:true, large:false};
}
option.series.push(line(0, aCurve, 4.5), dots(0, aTail, 3.6), dots(0, aStray, 3));
option.series.push(line(1, bCurve, 5), dots(1, bTail, 3.6));
option.series.push(line(2, cCurve, 4.5), dots(2, cTail, 3.6));
option.series.push(line(3, dCurve, 4.2), dots(3, dHead, 3.6), dots(3, dTail, 3.6));
option.series.push(line(4, eCurve, 4.8), dots(4, eTail, 3.6));
option.series.push(dots(5, fPoints, 4.8));

const chart = echarts.init(document.getElementById('c'), null, {renderer:'canvas'});
chart.setOption(option);
</script></body></html>
